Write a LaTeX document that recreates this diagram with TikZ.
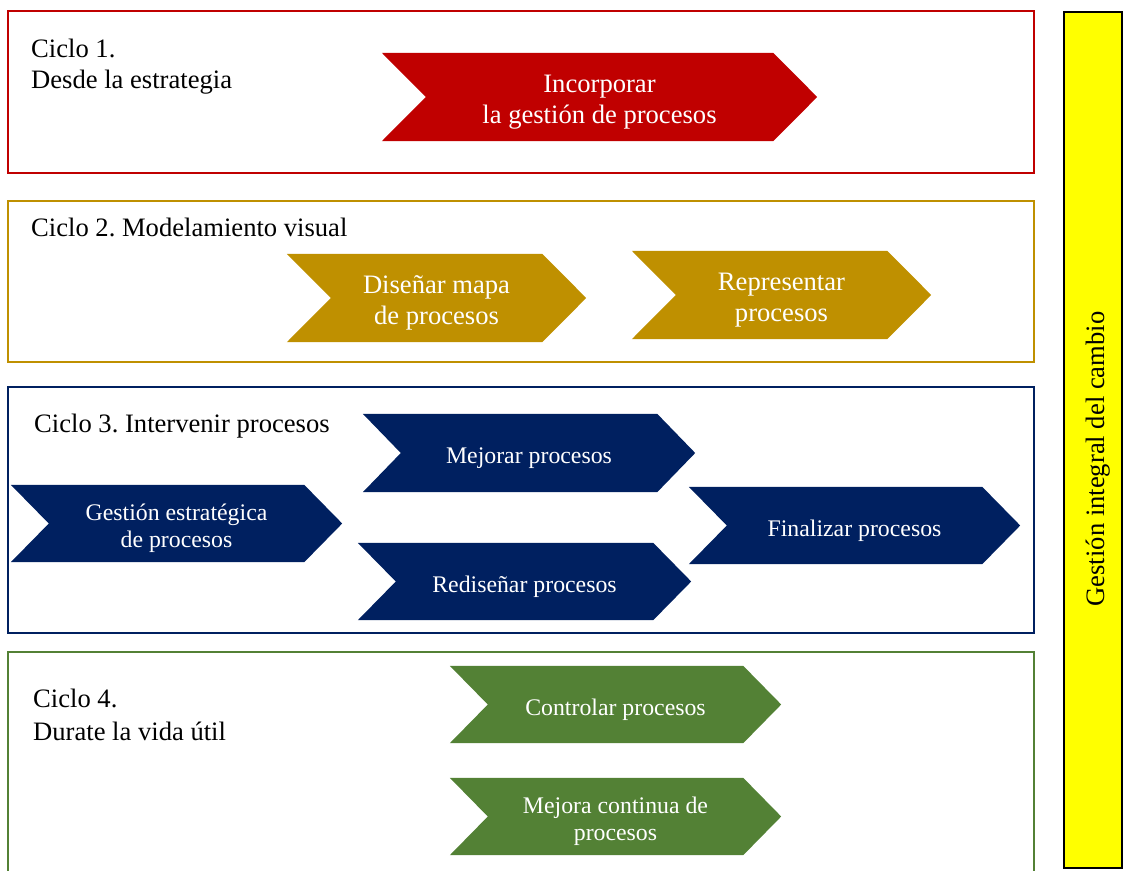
\documentclass[tikz,border=0pt]{standalone}
\usepackage{fontspec}
\setmainfont{Liberation Serif}
\usetikzlibrary{calc,backgrounds}
\frenchspacing
\definecolor{cycred}{HTML}{C00000}
\definecolor{cycgold}{HTML}{BF9000}
\definecolor{cycnavy}{HTML}{002060}
\definecolor{cycgreen}{HTML}{538135}
\definecolor{bandyellow}{HTML}{FFFF00}
\newcommand\bigtxt{\fontsize{26.6}{31}\selectfont}
\newcommand\smalltxt{\fontsize{23.8}{27}\selectfont}
% filled chevron behind a named node: node, notch/tip depth, colour
% (the outline sits 5pt above the node so that the label reads slightly low)
\newcommand\chevfill[3]{%
  \begin{scope}[on background layer]
    \fill[#3] ([yshift=5pt]#1.north west) -- ([xshift=-#2,yshift=5pt]#1.north east)
      -- ([yshift=5pt]#1.east) -- ([xshift=-#2,yshift=5pt]#1.south east)
      -- ([yshift=5pt]#1.south west) -- ([xshift=#2,yshift=5pt]#1.west) -- cycle;
  \end{scope}}
\tikzset{
  frame/.style={draw=#1, line width=2pt},
  cyclelabel/.style={anchor=base west, inner sep=0pt, font=\bigtxt},
  chevbig/.style={inner sep=0pt, text=white, align=center, font=\bigtxt},
  chevsmall/.style={inner sep=0pt, text=white, align=center, font=\smalltxt},
}
\begin{document}
\begin{tikzpicture}[x=1pt, y=-1pt]
\useasboundingbox (0,0) rectangle (1124,870);

% cycle frames
\draw[frame=cycred]   (8,11)  rectangle (1034,173);
\draw[frame=cycgold]  (8,201) rectangle (1034,362);
\draw[frame=cycnavy]  (8,387) rectangle (1034,633);
\draw[frame=cycgreen] (8,652) rectangle (1034,890);

% side band
\draw[line width=2pt, fill=bandyellow] (1064,12) rectangle (1122,868);
\node[rotate=90, font=\bigtxt, inner sep=0pt] (band) at (1098,459) {Gestión integral del cambio};

% cycle titles
\node[cyclelabel] (t1a) at (31,57)  {Ciclo 1.};
\node[cyclelabel] (t1b) at (31,88)  {Desde la estrategia};
\node[cyclelabel] (t2)  at (31,236) {Ciclo 2. Modelamiento visual};
\node[cyclelabel] (t3)  at (34,432) {Ciclo 3. Intervenir procesos};
\node[cyclelabel] (t4a) at (33,707) {Ciclo 4.};
\node[cyclelabel] (t4b) at (33,740) {Durate la vida útil};

% cycle 1
\node[chevbig, minimum width=435pt, minimum height=88pt] (inc) at (599.5,102)
  {Incorporar\\la gestión de procesos};
\chevfill{inc}{44pt}{cycred}

% cycle 2
\node[chevbig, minimum width=299pt, minimum height=88pt] (map) at (436.5,303)
  {Diseñar mapa\\de procesos};
\chevfill{map}{44pt}{cycgold}
\node[chevbig, minimum width=299pt, minimum height=88pt] (rep) at (781.5,300)
  {Representar\\procesos};
\chevfill{rep}{44pt}{cycgold}

% cycle 3
\node[chevsmall, minimum width=331pt, minimum height=77pt] (ge) at (176.5,528.5)
  {Gestión estratégica\\de procesos};
\chevfill{ge}{38pt}{cycnavy}
\node[chevsmall, minimum width=332pt, minimum height=78pt] (mej) at (529,458)
  {Mejorar procesos};
\chevfill{mej}{38pt}{cycnavy}
\node[chevsmall, minimum width=333pt, minimum height=77pt] (red) at (524.5,586.5)
  {Rediseñar procesos};
\chevfill{red}{38pt}{cycnavy}
\node[chevsmall, minimum width=331pt, minimum height=77pt] (fin) at (854.5,530.5)
  {Finalizar procesos};
\chevfill{fin}{38pt}{cycnavy}

% cycle 4
\node[chevsmall, minimum width=331pt, minimum height=77pt] (ctl) at (615.5,709.5)
  {Controlar procesos};
\chevfill{ctl}{38pt}{cycgreen}
\node[chevsmall, minimum width=331pt, minimum height=77pt] (mc) at (615.5,821.5)
  {Mejora continua de\\procesos};
\chevfill{mc}{38pt}{cycgreen}
\end{tikzpicture}
\end{document}
